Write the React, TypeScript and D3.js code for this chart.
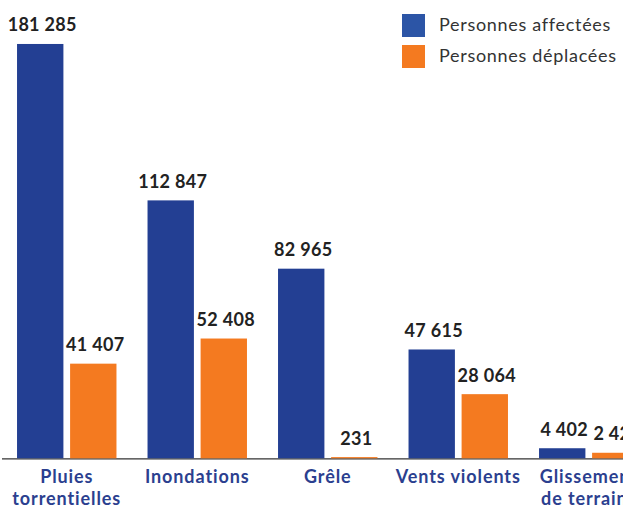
import React from "react";
import * as d3 from "d3";

const categories: string[][] = [
  ["Pluies", "torrentielles"],
  ["Inondations"],
  ["Grêle"],
  ["Vents violents"],
  ["Glissement", "de terrains"],
];
const seriesNames = ["Personnes affectées", "Personnes déplacées"];
const affectees = [181285, 112847, 82965, 47615, 4402];
const deplacees = [41407, 52408, 231, 28064, 2421];
const colors = ["#233F93", "#F47A20"];
const legendColors = ["#2C55A6", "#F47A20"];

const W = 623;
const H = 509;
const fmt = (v: number) => d3.format(",")(v).replace(/,/g, " ");

export default function App() {
  const keys = categories.map((c) => c.join(" "));
  const x = d3.scaleBand<string>().domain(keys).range([1.5, 654]).paddingInner(0.238).paddingOuter(0.119);
  const xs = d3.scaleBand<string>().domain(["a", "d"]).range([0, x.bandwidth()]).paddingInner(0.126);
  const y = d3.scaleLinear().domain([0, 200000]).range([458.3, 1.2]);
  const series = [affectees, deplacees];
  const sub = ["a", "d"];
  const font = "Lato, 'Open Sans', sans-serif";

  return (
    <svg width={W} height={H} style={{ position: "absolute", left: 0, top: 0, background: "#fff" }} fontFamily={font}>
      <line x1={2} x2={W} y1={458.8} y2={458.8} stroke="#333" strokeWidth={1.2} />
      {series.map((vals, si) =>
        vals.map((v, i) => {
          const bx = (x(keys[i]) ?? 0) + (xs(sub[si]) ?? 0);
          const by = Math.min(y(v), y(0) - 1.2);
          return (
            <rect key={`b${si}-${i}`} x={bx} y={by} width={xs.bandwidth()} height={y(0) - by} fill={colors[si]} />
          );
        })
      )}
      {series.map((vals, si) =>
        vals.map((v, i) => {
          const cx = (x(keys[i]) ?? 0) + (xs(sub[si]) ?? 0) + xs.bandwidth() / 2;
          const ty = Math.max(25, y(v) - 12.5);
          return (
            <text key={`t${si}-${i}`} x={cx + 2} y={ty} textAnchor="middle" fontSize={18} fontWeight={700} fill="#222" letterSpacing={0.3}>
              {fmt(v)}
            </text>
          );
        })
      )}
      {categories.map((lines, i) => (
        <text key={`c${i}`} textAnchor="middle" fontSize={18} fontWeight={700} fill="#2B3F8F" letterSpacing={0.9}>
          {lines.map((l, li) => (
            <tspan key={li} x={(x(keys[i]) ?? 0) + x.bandwidth() / 2} y={483.3 + li * 22}>
              {l}
            </tspan>
          ))}
        </text>
      ))}
      {seriesNames.map((n, i) => (
        <g key={`l${i}`} transform={`translate(402, ${14 + i * 31})`}>
          <rect width={23} height={23} fill={legendColors[i]} />
          <text x={37} y={17} fontSize={18} fill="#333" letterSpacing={0.7}>
            {n}
          </text>
        </g>
      ))}
    </svg>
  );
}
